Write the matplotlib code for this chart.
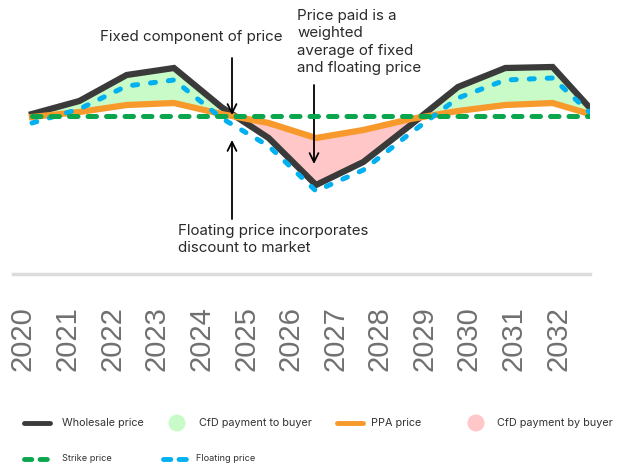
import numpy as np
import matplotlib
matplotlib.use("Agg")
from matplotlib import pyplot as plt
from matplotlib.patches import Ellipse

# values (arbitrary price units, strike = 0)
years = ["2020", "2021", "2022", "2023", "2024", "2025", "2026",
         "2027", "2028", "2029", "2030", "2031", "2032"]
wholesale = [2, 15, 41, 48, 9, -22, -69, -46, -9, 29, 48, 49, -3]
floating = [-7, 7, 30, 36, -2, -30, -75, -54, -17, 18, 36, 38, -6]
ppa = [-1, 4, 11, 13, 2, -7, -22, -14, -3, 5, 11, 13, -1]
strike = [0] * len(years)

c_black = "#3a3a3a"
c_orange = "#f7992b"
c_green = "#0aa64e"
c_blue = "#00b0f0"
c_fill_g = "#c8fbc8"
c_fill_r = "#ffc7c7"
W, H = 618, 466

plt.rcParams["font.family"] = ["Inter", "DejaVu Sans"]

fig = plt.figure(figsize=(W / 100, H / 100), dpi=100)
# main axes: px 13..590 horizontally, 0..274 vertically
ax = fig.add_axes([13 / W, 1 - 274 / H, (590 - 13) / W, 274 / H])
x = np.arange(len(years))
px = 47.33  # pixels per year step of the lines
ax.set_xlim((13 - 32) / px, (590 - 32) / px)
ax.set_ylim(116 - 274, 116)

w = np.array(wholesale, float)
p = np.array(ppa, float)
ax.fill_between(x, w, p, where=w >= p, interpolate=True, color=c_fill_g, lw=0, zorder=1)
ax.fill_between(x, w, p, where=w <= p, interpolate=True, color=c_fill_r, lw=0, zorder=1)
ax.plot(x, wholesale, color=c_black, lw=4.5, solid_joinstyle="miter", zorder=2)
ax.plot(x, ppa, color=c_orange, lw=4.5, zorder=3)
ax.plot(x, floating, color=c_blue, lw=3.6, dashes=(1.0, 2.6), dash_capstyle="round", zorder=4)
ax.plot(x, strike, color=c_green, lw=3.6, dashes=(1.7, 2.0), dash_capstyle="round", zorder=5)

for s in ["top", "left", "right"]:
    ax.spines[s].set_visible(False)
ax.spines["bottom"].set_color("#dcdcdc")
ax.spines["bottom"].set_linewidth(2.5)
ax.set_yticks([])
# year labels sit on their own spacing
ax.set_xticks([(23 + 44.6 * i - 32) / px for i in range(len(years))])
ax.set_xticklabels(years, rotation=90, family="Liberation Sans", fontsize=21,
                   color="#707070", va="top")
ax.tick_params(axis="x", length=0, pad=23)

# annotations
arr = dict(arrowstyle="->", lw=1.3, color="black", mutation_scale=16, shrinkA=0, shrinkB=0)
xa = (232 - 32) / px
xb = (314 - 32) / px
ax.annotate("", xy=(xa, 116 - 115), xytext=(xa, 116 - 58), arrowprops=arr)
ax.annotate("", xy=(xa, 116 - 140), xytext=(xa, 116 - 219), arrowprops=arr)
ax.annotate("", xy=(xb, 116 - 164), xytext=(xb, 116 - 85), arrowprops=arr)
fs = 10.9
tc = "#2a2a2a"
fig.text(100 / W, 1 - 37 / H, "Fixed component of price", fontsize=fs, color=tc, va="center")
fig.text(297 / W, 1 - 9 / H, "Price paid is a\nweighted\naverage of fixed\nand floating price",
         fontsize=fs, color=tc, va="top", linespacing=1.3)
fig.text(178 / W, 1 - 224 / H, "Floating price incorporates\ndiscount to market",
         fontsize=fs, color=tc, va="top", linespacing=1.3)

# legend drawn by hand
lg = fig.add_axes([0, 0, 1, 1 - 395 / H])
lg.set_xlim(0, W)
lg.set_ylim(H, 395)
lg.axis("off")
lc = "#333333"
lfs = 7.8
lg.plot([24, 50], [423, 423], color=c_black, lw=3.5, solid_capstyle="round")
lg.text(62, 423, "Wholesale price", fontsize=lfs, va="center", color=lc)
lg.add_patch(Ellipse((177, 423), 17, 17, color=c_fill_g, lw=0))
lg.text(199, 423, "CfD payment to buyer", fontsize=lfs, va="center", color=lc)
lg.plot([337, 363], [423, 423], color=c_orange, lw=3.5, solid_capstyle="round")
lg.text(371, 423, "PPA price", fontsize=lfs, va="center", color=lc)
lg.add_patch(Ellipse((476, 423), 17, 17, color=c_fill_r, lw=0))
lg.text(497, 423, "CfD payment by buyer", fontsize=lfs, va="center", color=lc)
lg.plot([24, 49], [459, 459], color=c_green, lw=3.5, dashes=(1.5, 1.7), dash_capstyle="round")
lg.text(62, 459, "Strike price", fontsize=6.6, va="center", color=lc)
lg.plot([163, 189], [459, 459], color=c_blue, lw=3.5, dashes=(1.5, 1.7), dash_capstyle="round")
lg.text(196, 459, "Floating price", fontsize=6.6, va="center", color=lc)

plt.savefig("out.png", dpi=100)
